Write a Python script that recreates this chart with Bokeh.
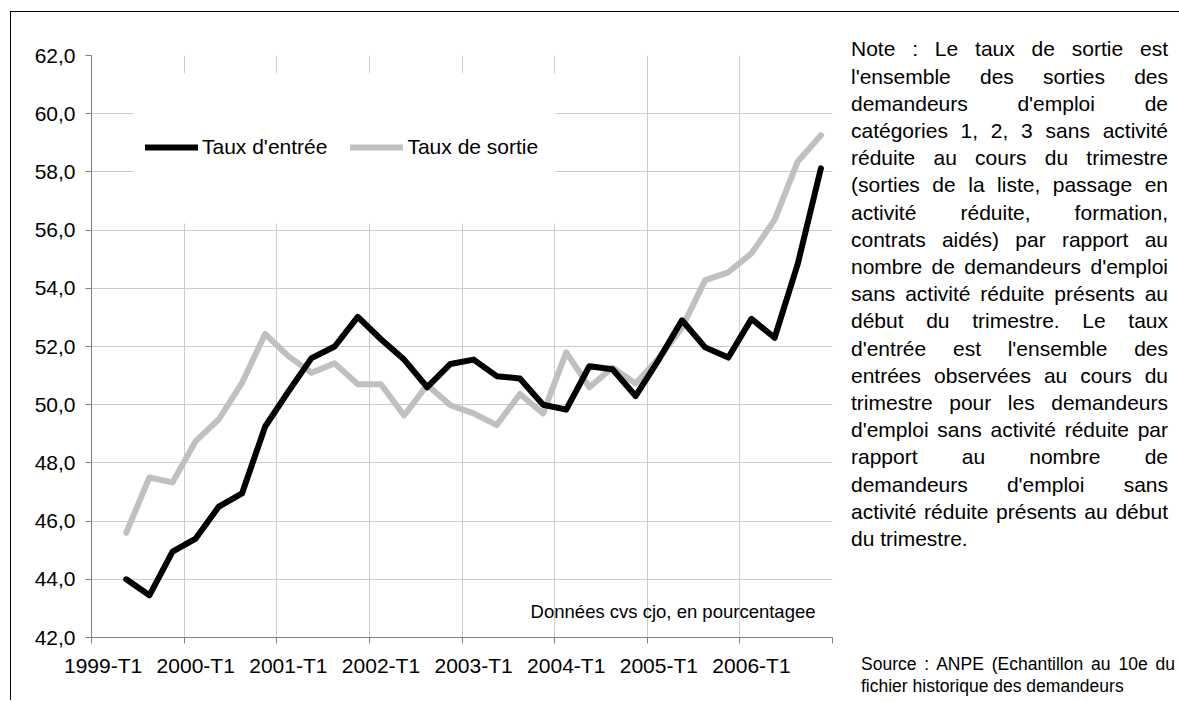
import html
import numpy as np
from bokeh.plotting import figure
from bokeh.layouts import row
from bokeh.models import (Range1d, FixedTicker, SingleIntervalTicker, CustomJSTickFormatter,
                          Legend, LegendItem, BoxAnnotation, Label, ColumnDataSource, Div)
from bokeh.embed import file_html
from bokeh.resources import INLINE

# ---------------- data ----------------
years = [1999, 2000, 2001, 2002, 2003, 2004, 2005, 2006]
quarters = [f"{y}-T{q}" for y in years for q in (1, 2, 3, 4)]
data_quarters = quarters[1:]          # 1999-T2 .. 2006-T4
year_labels = [f"{y}-T1" for y in years]

taux_entree = [44.0, 43.45, 44.95, 45.4, 46.5, 46.95, 49.25, 50.45, 51.6, 52.0,
               53.02, 52.25, 51.55, 50.6, 51.4, 51.55, 50.98, 50.9, 50.0, 49.83,
               51.32, 51.22, 50.3, 51.55, 52.9, 51.97, 51.62, 52.95, 52.3, 54.84, 58.12]
taux_sortie = [45.6, 47.5, 47.33, 48.75, 49.5, 50.75, 52.43, 51.67, 51.1, 51.42,
               50.7, 50.7, 49.63, 50.68, 49.98, 49.7, 49.3, 50.37, 49.7, 51.8,
               50.6, 51.27, 50.73, 51.6, 52.65, 54.28, 54.55, 55.2, 56.35, 58.36, 59.26]
series_names = ["Taux d'entrée", "Taux de sortie"]
series_colors = ["#000000", "#C0C0C0"]

unit_note = "Données cvs cjo, en pourcentagee"
note_lines = [
    "Note : Le taux de sortie est",
    "l'ensemble des sorties des",
    "demandeurs d'emploi de",
    "catégories 1, 2, 3 sans activité",
    "réduite au cours du trimestre",
    "(sorties de la liste, passage en",
    "activité réduite, formation,",
    "contrats aidés) par rapport au",
    "nombre de demandeurs d'emploi",
    "sans activité réduite présents au",
    "début du trimestre. Le taux",
    "d'entrée est l'ensemble des",
    "entrées observées au cours du",
    "trimestre pour les demandeurs",
    "d'emploi sans activité réduite par",
    "rapport au nombre de",
    "demandeurs d'emploi sans",
    "activité réduite présents au début",
    "du trimestre.",
]
source_lines = [
    "Source : ANPE (Echantillon au 10e du",
    "fichier historique des demandeurs",
]

# ---------------- geometry ----------------
FRAME_L, FRAME_T, FRAME_W, FRAME_H = 91, 55, 741, 582
FIG_W, FIG_H = 848, 700
DIV_W = 1179 - FIG_W
XMAX = len(quarters)
YMIN, YMAX = 42, 62
FONT = "Liberation Sans"


def px_x(px):
    return (px - FRAME_L) / FRAME_W * XMAX


def py_y(py):
    return YMIN + ((FRAME_T + FRAME_H) - py) / FRAME_H * (YMAX - YMIN)


# ---------------- figure ----------------
p = figure(frame_width=FRAME_W, frame_height=FRAME_H,
           min_border_left=FRAME_L, min_border_top=FRAME_T,
           min_border_right=FIG_W - FRAME_L - FRAME_W,
           min_border_bottom=FIG_H - FRAME_T - FRAME_H,
           x_range=Range1d(0, XMAX), y_range=Range1d(YMIN, YMAX),
           output_backend="svg", toolbar_location=None)
p.background_fill_color = "white"
p.border_fill_color = None
p.outline_line_color = None

x_pos = [quarters.index(q) + 0.5 for q in data_quarters]
src = ColumnDataSource(dict(x=x_pos, entree=taux_entree, sortie=taux_sortie))

# grids
p.xgrid.ticker = FixedTicker(ticks=list(range(0, XMAX + 1, 4)))
p.xgrid.grid_line_color = "#CCCCCC"
p.ygrid.grid_line_color = "#CCCCCC"
p.grid.grid_line_width = 1

# white box behind the legend, hiding the grid
p.add_layout(BoxAnnotation(left=px_x(133), right=px_x(555), top=py_y(73), bottom=py_y(223),
                           fill_color="white", fill_alpha=1, line_color=None, level="underlay"))

r_sortie = p.line('x', 'sortie', source=src, line_color=series_colors[1], line_width=6,
                  line_cap="round", line_join="round")
r_entree = p.line('x', 'entree', source=src, line_color=series_colors[0], line_width=6,
                  line_cap="round", line_join="round")

# x axis
xa = p.xaxis[0]
xa.ticker = FixedTicker(ticks=[quarters.index(l) + 0.5 for l in year_labels],
                        minor_ticks=list(range(0, XMAX + 1, 4)))
xa.formatter = CustomJSTickFormatter(args=dict(labels=quarters),
                                     code="return labels[Math.floor(tick)] || '';")
xa.major_tick_line_color = None
xa.major_tick_out = 0
xa.major_tick_in = 0
xa.minor_tick_out = 6
xa.minor_tick_in = 0
xa.minor_tick_line_color = "#808080"
xa.axis_line_color = "#808080"
xa.major_label_text_font = FONT
xa.major_label_text_font_size = "21px"
xa.major_label_text_color = "black"
xa.major_label_standoff = 10

# y axis
ya = p.yaxis[0]
ya.ticker = SingleIntervalTicker(interval=2, num_minor_ticks=0)
ya.formatter = CustomJSTickFormatter(code="return tick.toFixed(1).replace('.', ',');")
ya.major_tick_out = 6
ya.major_tick_in = 0
ya.minor_tick_line_color = None
ya.major_tick_line_color = "#808080"
ya.axis_line_color = "#808080"
ya.major_label_text_font = FONT
ya.major_label_text_font_size = "21px"
ya.major_label_text_color = "black"
ya.major_label_standoff = 10

# legend
legend = Legend(items=[LegendItem(label=series_names[0], renderers=[r_entree]),
                       LegendItem(label=series_names[1], renderers=[r_sortie])],
                orientation="horizontal", location=(54, 478),
                glyph_width=53, glyph_height=24, label_height=24, label_width=20,
                label_standoff=4, spacing=23, padding=0, margin=0,
                label_text_font=FONT, label_text_font_size="21px",
                label_text_color="black",
                background_fill_alpha=0, border_line_color=None)
p.add_layout(legend)

# unit note inside plot
p.add_layout(Label(x=px_x(815), y=py_y(611), text=unit_note, text_align="right",
                   text_baseline="middle", text_font=FONT, text_font_size="18.5px",
                   text_color="black"))

# ---------------- side text (justified note + source) ----------------
NOTE_L, NOTE_R, NOTE_Y0, NOTE_DY, NOTE_FS = 851, 1168, 49, 27.2, 21
SRC_L, SRC_R, SRC_Y0, SRC_DY, SRC_FS = 861, 1175, 664, 22, 17.5


def block(lines, left, right, y0, dy, fs):
    out = []
    for k, line in enumerate(lines):
        last = "left" if (k == len(lines) - 1) else "justify"
        out.append(
            f'<div style="position:absolute;left:{left - FIG_W}px;top:{y0 - dy / 2 + k * dy:.1f}px;'
            f'width:{right - left}px;height:{dy}px;line-height:{dy}px;font-size:{fs}px;'
            f'text-align:justify;text-align-last:{last};margin:0;padding:0;">'
            f'{html.escape(line, quote=False)}</div>')
    return "".join(out)


side_html = (
    f'<div style="position:relative;width:{DIV_W}px;height:{FIG_H}px;overflow:hidden;'
    f'font-family:\'{FONT}\',Arial,sans-serif;color:#000;">'
    + block(note_lines, NOTE_L, NOTE_R, NOTE_Y0, NOTE_DY, NOTE_FS)
    + block(source_lines, SRC_L, SRC_R, SRC_Y0, SRC_DY, SRC_FS)
    + '</div>'
)
side = Div(text=side_html, width=DIV_W, height=FIG_H, margin=0)

layout = row(p, side)
# thin black border of the chart area (top and left edges)
layout.styles = {"box-shadow": "inset 10px 11px 0 0 #ffffff, inset 11px 12px 0 0 #000000"}

open("out.html", "w").write(file_html(layout, INLINE))
